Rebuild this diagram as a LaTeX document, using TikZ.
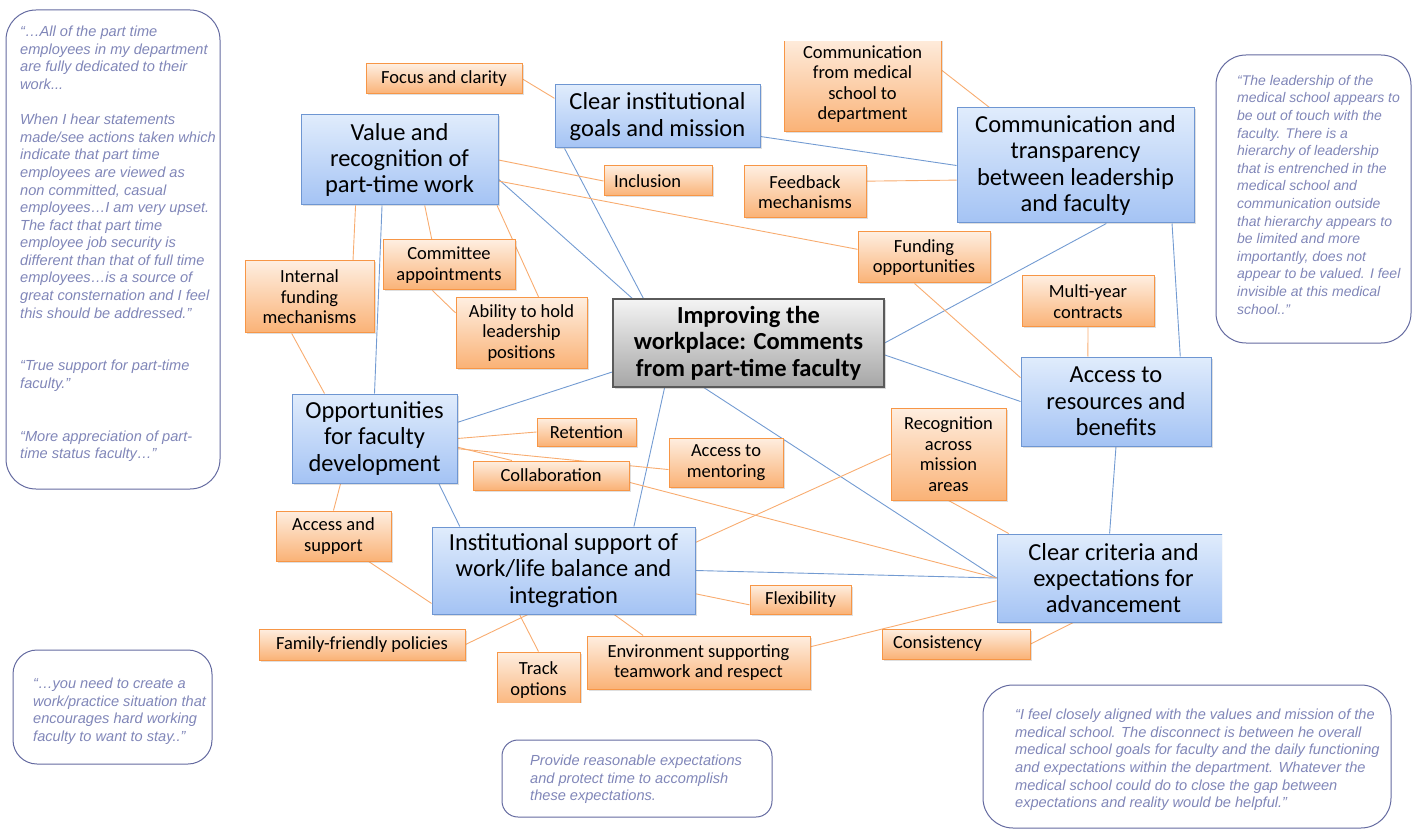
\documentclass[tikz,border=0pt]{standalone}
\usepackage{fontspec}
\setmainfont{Carlito}
\newfontfamily\quotefont{Liberation Sans}
\usetikzlibrary{shadows,backgrounds}

\definecolor{themeline}{RGB}{110,150,210}
\definecolor{themetop}{RGB}{224,236,252}
\definecolor{themebot}{RGB}{164,195,244}
\definecolor{itemline}{RGB}{247,150,70}
\definecolor{itemtop}{RGB}{254,238,224}
\definecolor{itembot}{RGB}{250,178,118}
\definecolor{hubline}{RGB}{90,90,90}
\definecolor{hubtop}{RGB}{244,244,244}
\definecolor{hubbot}{RGB}{166,166,166}
\definecolor{bluelink}{RGB}{115,155,210}
\definecolor{orangelink}{RGB}{248,172,112}
\definecolor{quoteline}{RGB}{100,106,160}
\definecolor{quoteink}{RGB}{128,134,184}

\begin{document}
\begin{tikzpicture}[x=1pt,y=-1pt,
    theme/.style={draw=themeline,line width=1pt,top color=themetop,bottom color=themebot,
      drop shadow={shadow xshift=1.5pt,shadow yshift=-1.5pt,opacity=0.25},
      align=center,inner sep=0pt,font=\fontsize{24.5}{26.3}\selectfont},
    item/.style={draw=itemline,line width=1pt,top color=itemtop,bottom color=itembot,
      drop shadow={shadow xshift=1.5pt,shadow yshift=-1.5pt,opacity=0.25},
      align=center,inner sep=0pt,font=\fontsize{18.5}{20.5}\selectfont},
    hub/.style={draw=hubline,line width=1.2pt,top color=hubtop,bottom color=hubbot,
      drop shadow={shadow xshift=1.5pt,shadow yshift=-1.5pt,opacity=0.3},
      align=center,inner sep=0pt,font=\bfseries\fontsize{24.5}{26.5}\selectfont},
    quotebox/.style={draw=quoteline,line width=1pt},
    quote/.style={anchor=north west,inner sep=0pt,align=left,text=quoteink,
      font=\quotefont\itshape\fontsize{14.6}{17.58}\selectfont},
    mainlink/.style={draw=bluelink,line width=0.9pt},
    sublink/.style={draw=orangelink,line width=0.9pt}]

\useasboundingbox (0,0) rectangle (1419,834);

\begin{scope}
\clip (240,42) rectangle (1222,702);

% main themes
\node[hub, minimum width=271pt, minimum height=88pt] (hub) at (748.5,343)
  {Improving the\\workplace: Comments\\from part-time faculty};
\node[theme, minimum width=197pt, minimum height=90pt] (value) at (399.5,160)
  {Value and\\recognition of\\part-time work};
\node[theme, minimum width=205pt, minimum height=63pt] (goals) at (657.5,116.5)
  {Clear institutional\\goals and mission};
\node[theme, minimum width=237pt, minimum height=115pt] (comm) at (1075.5,165.5)
  {Communication and\\transparency\\between leadership\\and faculty};
\node[theme, minimum width=190pt, minimum height=89pt] (access) at (1116,401.5)
  {Access to\\resources and\\benefits};
\node[theme, minimum width=165pt, minimum height=89pt] (opp) at (374.5,438.5)
  {Opportunities\\for faculty\\development};
\node[theme, minimum width=263pt, minimum height=87pt] (inst) at (563.5,570.5)
  {Institutional support of\\work/life balance and\\integration};
\node[theme, minimum width=233pt, minimum height=88pt] (criteria) at (1113.5,578)
  {Clear criteria and\\expectations for\\advancement};

% sub items
\node[item, minimum width=156pt, minimum height=30pt] (focus) at (444,79) {Focus and clarity};
\node[item, minimum width=157pt, minimum height=96pt] (commmed) at (862.5,84)
  {Communication\\from medical\\school to\\department};
\node[item, minimum width=122pt, minimum height=52pt] (feedback) at (805,192) {Feedback\\mechanisms};
\node[item, text width=88pt, inner xsep=10pt, align=left, minimum height=30pt] (inclusion) at (658,181) {Inclusion};
\node[item, minimum width=132pt, minimum height=51pt] (funding) at (924,257.5) {Funding\\opportunities};
\node[item, minimum width=132pt, minimum height=51pt] (multiyear) at (1088,301.5) {Multi-year\\contracts};
\node[item, minimum width=132pt, minimum height=50pt] (committee) at (449,265) {Committee\\appointments};
\node[item, minimum width=131pt, minimum height=70pt] (ability) at (521.5,333) {Ability to hold\\leadership\\positions};
\node[item, minimum width=129pt, minimum height=72pt] (internal) at (309.5,297) {Internal\\funding\\mechanisms};
\node[item, minimum width=99pt, minimum height=28pt] (retention) at (586.5,432) {Retention};
\node[item, minimum width=114pt, minimum height=49pt] (mentoring) at (726,462.5) {Access to\\mentoring};
\node[item, minimum width=156pt, minimum height=29pt] (collab) at (551,475.5) {Collaboration};
\node[item, minimum width=115pt, minimum height=92pt] (recog) at (948.5,454) {Recognition\\across\\mission\\areas};
\node[item, minimum width=115pt, minimum height=50pt] (accsupp) at (333.5,536) {Access and\\support};
\node[item, minimum width=101pt, minimum height=29pt] (flex) at (800.5,599.5) {Flexibility};
\node[item, minimum width=206pt, minimum height=31pt] (family) at (362,644.5) {Family-friendly policies};
\node[item, minimum width=83pt, minimum height=56pt] (track) at (538.5,680) {Track\\options};
\node[item, minimum width=223pt, minimum height=53pt] (environ) at (698.5,662.5) {Environment supporting\\teamwork and respect};
\node[item, text width=126pt, inner xsep=11pt, align=left, minimum height=30pt] (consist) at (956,644) {Consistency};
\end{scope}

\begin{pgfonlayer}{background}
% links between themes
\draw[mainlink] (value.-11.5) -- (hub.159.6);
\draw[mainlink] (goals.199.8) -- (hub.157);
\draw[mainlink] (goals.-11.8) -- (comm.west);
\draw[mainlink] (comm.-62.8) -- (hub.east);
\draw[mainlink] (comm.-31.3) -- (access.35.7);
\draw[mainlink] (hub.-5) -- (access.west);
\draw[mainlink] (access.south) -- (criteria.95);
\draw[mainlink] (value.249.9) -- (opp.north);
\draw[mainlink] (hub.192.5) -- (opp.11.3);
\draw[mainlink] (hub.208.7) -- (inst.32.4);
\draw[mainlink] (hub.225.3) -- (criteria.west);
\draw[mainlink] (opp.-35.9) -- (inst.157.8);
\draw[mainlink] (inst.east) -- (criteria.west);
% links to items
\draw[sublink] (focus.east) -- (goals.170.9);
\draw[sublink] (commmed.10.8) -- (comm.146.1);
\draw[sublink] (feedback.10.2) -- (comm.187.5);
\draw[sublink] (value.east) -- (inclusion.west);
\draw[sublink] (value.-12.6) -- (funding.173.5);
\draw[sublink] (funding.250.6) -- (access.166.1);
\draw[sublink] (multiyear.south) -- (access.122.2);
\draw[sublink] (value.226.6) -- (internal.40.9);
\draw[sublink] (value.-61.4) -- (committee.124.2);
\draw[sublink] (value.-25.9) -- (ability.64.8);
\draw[sublink] (committee.237.4) -- (ability.163);
\draw[sublink] (internal.244.1) -- (opp.138.6);
\draw[sublink] (opp.east) -- (retention.west);
\draw[sublink] (opp.-6.6) -- (collab.159.1);
\draw[sublink] (opp.-7.9) -- (mentoring.187.5);
\draw[sublink] (collab.-5.5) -- (criteria.west);
\draw[sublink] (opp.233.9) -- (accsupp.north);
\draw[sublink] (accsupp.-36.7) -- (inst.194.7);
\draw[sublink] (inst.12.6) -- (recog.west);
\draw[sublink] (recog.south) -- (criteria.157.2);
\draw[sublink] (inst.-10.1) -- (flex.186.2);
\draw[sublink] (inst.231.9) -- (family.east);
\draw[sublink] (inst.225.7) -- (track.north);
\draw[sublink] (inst.-41.9) -- (environ.154.5);
\draw[sublink] (environ.8.4) -- (criteria.191.1);
\draw[sublink] (consist.east) -- (criteria.228.1);
\end{pgfonlayer}

% comments from faculty
\draw[quotebox, rounded corners=30pt] (6,10) rectangle (220,489);
\node[quote] (quoteA) at (20,26) {“\dots All of the part time\\employees in my department\\are fully dedicated to their\\work...\\[17.58pt]
When I hear statements\\made/see actions taken which\\indicate that part time\\employees are viewed as\\non committed, casual\\employees\dots I am very upset.\\The fact that part time\\employee job security is\\different than that of full time\\employees\dots is a source of\\great consternation and I feel\\this should be addressed.”\\[35.16pt]
“True support for part-time\\faculty.”\\[35.16pt]
“More appreciation of part-\\time status faculty\dots”};

\draw[quotebox, rounded corners=30pt] (1216,55) rectangle (1411,343);
\node[quote, font=\quotefont\itshape\fontsize{14}{17.6}\selectfont] (quoteB) at (1237,75) {“The leadership of the\\medical school appears to\\be out of touch with the\\faculty. There is a\\hierarchy of leadership\\that is entrenched in the\\medical school and\\communication outside\\that hierarchy appears to\\be limited and more\\importantly, does not\\appear to be valued. I feel\\invisible at this medical\\school..”};

\draw[quotebox, rounded corners=24pt] (13,650) rectangle (212,764);
\node[quote] (quoteC) at (33,678) {“\dots you need to create a\\work/practice situation that\\encourages hard working\\faculty to want to stay..”};

\draw[quotebox, rounded corners=16pt] (502,740) rectangle (772,817);
\node[quote] (quoteD) at (530,755) {Provide reasonable expectations\\and protect time to accomplish\\these expectations.};

\draw[quotebox, rounded corners=30pt] (983,685) rectangle (1391,828);
\node[quote] (quoteE) at (1015,709) {“I feel closely aligned with the values and mission of the\\medical school. The disconnect is between he overall\\medical school goals for faculty and the daily functioning\\and expectations within the department. Whatever the\\medical school could do to close the gap between\\expectations and reality would be helpful.”};

\end{tikzpicture}
\end{document}
